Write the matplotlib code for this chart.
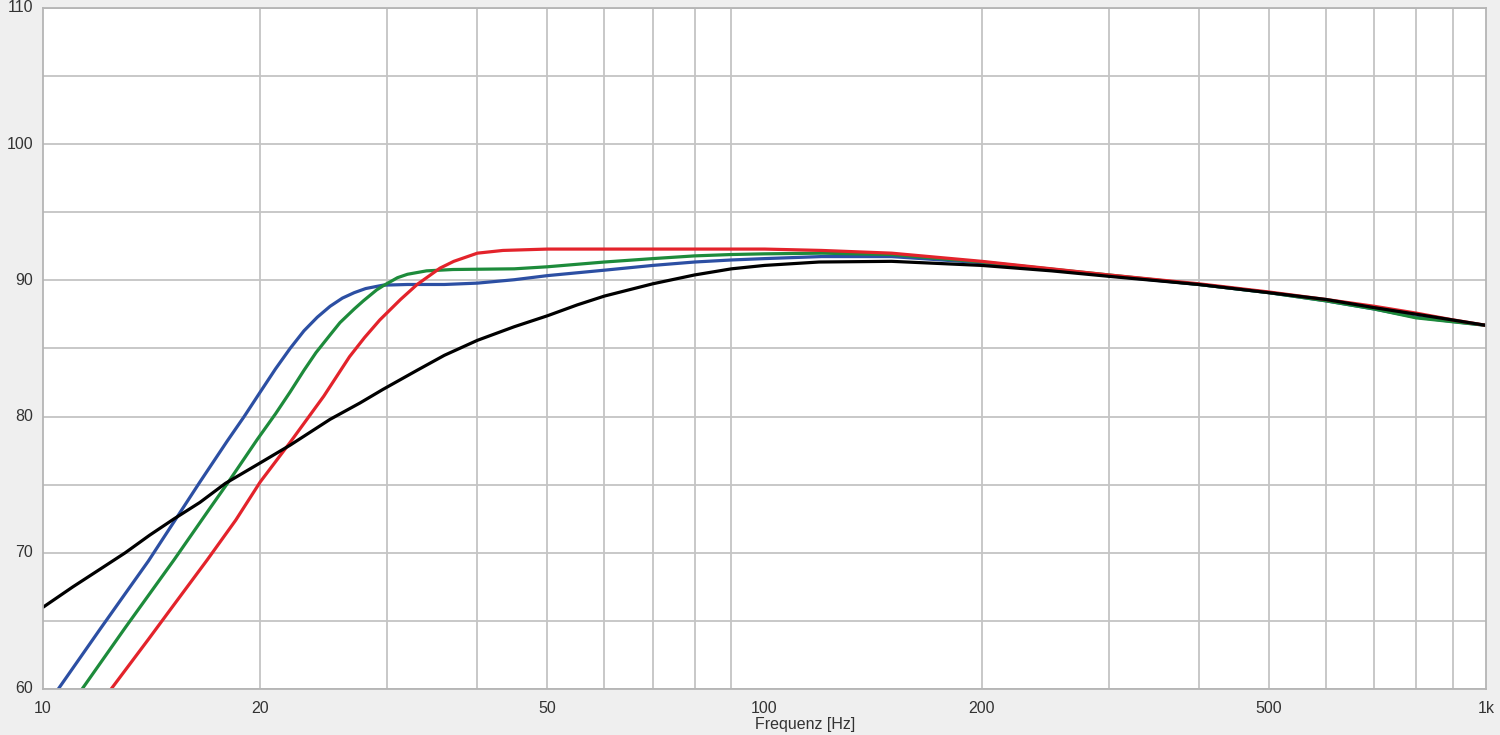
import matplotlib
matplotlib.use('Agg')
import matplotlib.pyplot as plt
from matplotlib.ticker import FixedLocator, NullFormatter

plt.rcParams['font.family'] = ['Liberation Sans Narrow', 'Liberation Sans', 'DejaVu Sans']

# frequency response curves (Hz, dB)
black_f = [10, 11, 12, 13, 14.06, 15.2, 16.5, 17.9, 20, 22, 25, 27.5, 29.6, 33, 36, 40, 45, 50, 55, 60, 70, 80, 90, 100, 119, 150, 200, 250, 300, 400, 500, 600, 700, 850, 1000]
black_db = [66.0, 67.5, 68.8, 70.0, 71.3, 72.5, 73.7, 75.1, 76.6, 77.9, 79.8, 81.0, 82.0, 83.4, 84.5, 85.6, 86.6, 87.4, 88.2, 88.85, 89.75, 90.4, 90.85, 91.1, 91.35, 91.4, 91.1, 90.7, 90.3, 89.7, 89.1, 88.6, 88.0, 87.3, 86.7]

blue_f = [10.5, 12, 13, 14, 15.2, 16.5, 18, 19, 20, 21, 22, 23, 24, 25, 26, 27, 28, 29.6, 32, 36, 40, 45, 50, 60, 70, 80, 90, 100, 120, 150, 200, 250, 300, 400, 500, 600, 700, 800, 1000]
blue_db = [60.0, 64.4, 67.0, 69.4, 72.3, 75.2, 78.2, 80.0, 81.8, 83.5, 85.0, 86.3, 87.3, 88.1, 88.7, 89.1, 89.4, 89.65, 89.7, 89.7, 89.8, 90.05, 90.35, 90.75, 91.1, 91.35, 91.5, 91.6, 91.75, 91.75, 91.3, 90.8, 90.35, 89.7, 89.1, 88.5, 87.9, 87.3, 86.7]

green_f = [11.33, 13, 15.2, 17, 18.07, 19.8, 21, 22, 23, 23.9, 25, 25.8, 27, 27.8, 29, 29.6, 31, 32, 34, 37, 45, 50, 60, 70, 80, 90, 100, 120, 150, 200, 300, 400, 500, 600, 700, 800, 1000]
green_db = [60.0, 64.5, 69.5, 73.2, 75.2, 78.3, 80.2, 81.8, 83.4, 84.7, 86.0, 86.9, 87.9, 88.5, 89.3, 89.6, 90.2, 90.45, 90.7, 90.8, 90.85, 91.0, 91.35, 91.6, 91.8, 91.9, 91.95, 92.0, 91.9, 91.35, 90.4, 89.7, 89.1, 88.5, 87.9, 87.25, 86.7]

red_f = [12.43, 14, 15, 16.9, 18.5, 20, 22, 24.5, 26.6, 27.9, 29.3, 31.3, 33, 35.5, 37.1, 40, 43.4, 50, 100, 120, 150, 200, 300, 400, 500, 600, 700, 800, 900, 1000]
red_db = [60.0, 63.65, 65.8, 69.5, 72.4, 75.2, 78.1, 81.5, 84.4, 85.8, 87.1, 88.6, 89.7, 90.9, 91.4, 92.0, 92.2, 92.3, 92.3, 92.2, 92.0, 91.4, 90.4, 89.75, 89.15, 88.6, 88.1, 87.6, 87.1, 86.7]

x_ticks = [10, 20, 50, 100, 200, 500, 1000]
x_labels = ['10', '20', '50', '100', '200', '500', '1k']
y_ticks = [60, 70, 80, 90, 100, 110]

fig = plt.figure(figsize=(15, 7.35), dpi=100, facecolor='#efefef')
ax = fig.add_axes([43 / 1500, 1 - 689 / 735, (1486 - 43) / 1500, (689 - 8) / 735])
ax.set_facecolor('white')

lw = 2.3
ax.plot(blue_f, blue_db, color='#2c4fa3', lw=lw, solid_joinstyle='round')
ax.plot(green_f, green_db, color='#1d8b3b', lw=lw, solid_joinstyle='round')
ax.plot(red_f, red_db, color='#e3232b', lw=lw, solid_joinstyle='round')
ax.plot(black_f, black_db, color='black', lw=lw, solid_joinstyle='round')

ax.set_xscale('log')
ax.set_xlim(10, 1000)
ax.set_ylim(60, 110)

# grid lines at every 1-2-3...9 step, labels only at 10/20/50...
grid_x = [m * d for d in (10, 100) for m in range(2, 10)]
ax.xaxis.set_major_locator(FixedLocator(grid_x))
ax.xaxis.set_minor_locator(FixedLocator([]))
ax.xaxis.set_major_formatter(NullFormatter())
ax.xaxis.set_minor_formatter(NullFormatter())
ax.yaxis.set_major_locator(FixedLocator(list(range(60, 111, 5))))
ax.yaxis.set_major_formatter(NullFormatter())
ax.grid(True, color='#c4c4c4', lw=1.3)
ax.tick_params(length=0)
for s in ax.spines.values():
    s.set_color('#b5b5b5')
    s.set_linewidth(1.3)

for xt, lab in zip(x_ticks, x_labels):
    ax.text(xt, -0.029, lab, transform=ax.get_xaxis_transform(), ha='center', va='center',
            fontsize=11.5, color='#333333')
for yt in y_ticks:
    ax.text(-0.007, yt, str(yt), transform=ax.get_yaxis_transform(), ha='right', va='center',
            fontsize=11.5, color='#333333')

fig.text(805 / 1500, 1 - 724 / 735, 'Frequenz [Hz]', ha='center', va='center', fontsize=11.5, color='#333333')

fig.savefig('out.png', dpi=100, facecolor=fig.get_facecolor())
